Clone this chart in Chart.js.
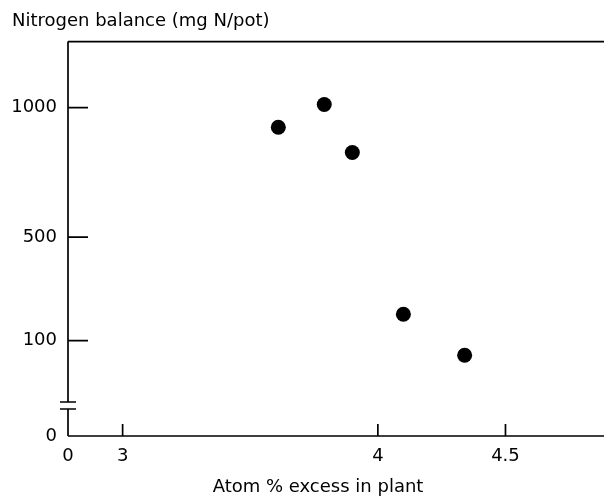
<!DOCTYPE html>
<html>
<head>
<meta charset="utf-8">
<script src="https://cdn.jsdelivr.net/npm/chart.js"></script>
<style>
  html, body { margin: 0; padding: 0; background: #fff; }
  #box { width: 604px; height: 500px; }
</style>
</head>
<body>
<div id="box"><canvas id="nChart"></canvas></div>
<script>
// values
const atomExcess = [3.61, 3.79, 3.90, 4.10, 4.34];
const nBalance = [924, 1012, 827, 202, 44];
const xTicks = [3, 4, 4.5];
const yTicks = [100, 500, 1000];
const originLabel = '0';
const yTitle = 'Nitrogen balance (mg N/pot)';
const xTitle = 'Atom % excess in plant';

// both axes are broken, the origin "0" sits at the low end
const xMin = 2.786, xMax = 4.886;
const yMin = -268, yMax = 1255;

const crt = document.getElementById('nChart');
Chart.defaults.font.family = 'DejaVu Sans';
Chart.defaults.color = '#000';

// axes drawn by hand: inward ticks, y-axis break, top frame line
const handAxes = {
	id: 'handAxes',
	afterDraw(chart) {
		const ctx = chart.ctx;
		const a = chart.chartArea;
		const xs = chart.scales.x, ys = chart.scales.y;
		ctx.save();
		ctx.strokeStyle = '#000';
		ctx.lineWidth = 1.7;
		ctx.beginPath();
		// top line
		ctx.moveTo(a.left, a.top);
		ctx.lineTo(a.right, a.top);
		// y axis with a gap
		ctx.moveTo(a.left, a.top);
		ctx.lineTo(a.left, a.bottom - 34);
		ctx.moveTo(a.left, a.bottom - 27);
		ctx.lineTo(a.left, a.bottom);
		// break marks
		ctx.moveTo(a.left - 8, a.bottom - 34);
		ctx.lineTo(a.left + 8, a.bottom - 34);
		ctx.moveTo(a.left - 8, a.bottom - 27);
		ctx.lineTo(a.left + 8, a.bottom - 27);
		// x axis
		ctx.moveTo(a.left, a.bottom);
		ctx.lineTo(a.right, a.bottom);
		yTicks.forEach(v => {
			const py = ys.getPixelForValue(v);
			ctx.moveTo(a.left, py);
			ctx.lineTo(a.left + 20, py);
		});
		xTicks.forEach(v => {
			const px = xs.getPixelForValue(v);
			ctx.moveTo(px, a.bottom);
			ctx.lineTo(px, a.bottom - 12);
		});
		ctx.stroke();
		ctx.fillStyle = '#000';
		ctx.font = '18px "DejaVu Sans"';
		ctx.textAlign = 'center';
		ctx.textBaseline = 'middle';
		ctx.fillText(xTitle, (a.left + a.right) / 2 - 18, 487);
		ctx.restore();
	}
};

new Chart(crt, {
	type: 'scatter',
	data: {
		datasets: [{
			data: atomExcess.map((x, i) => ({ x: x, y: nBalance[i] })),
			backgroundColor: '#000',
			borderWidth: 0,
			pointRadius: 7.5,
			pointHoverRadius: 7.5
		}]
	},
	options: {
		responsive: true,
		maintainAspectRatio: false,
		animation: false,
		layout: { autoPadding: false, padding: { left: 12, right: 0, top: 0, bottom: 0 } },
		plugins: {
			legend: { display: false },
			tooltip: { enabled: false },
			title: {
				display: true,
				text: yTitle,
				align: 'start',
				font: { size: 18, weight: 'normal' },
				padding: { top: 11, bottom: 9 }
			}
		},
		scales: {
			x: {
				type: 'linear',
				min: xMin,
				max: xMax,
				grid: { display: false, drawTicks: false },
				border: { display: false },
				afterBuildTicks: s => { s.ticks = [xMin].concat(xTicks).map(v => ({ value: v })); },
				afterFit: s => { s.height = 64; },
				ticks: {
					font: { size: 18 },
					padding: 10,
					autoSkip: false,
					maxRotation: 0,
					callback: v => v === xMin ? originLabel : v
				}
			},
			y: {
				type: 'linear',
				min: yMin,
				max: yMax,
				grid: { display: false, drawTicks: false },
				border: { display: false },
				afterBuildTicks: s => { s.ticks = [yMin].concat(yTicks).map(v => ({ value: v })); },
				afterFit: s => { s.width = 56; },
				ticks: {
					font: { size: 18 },
					padding: 11,
					callback: v => v === yMin ? originLabel : v
				}
			}
		}
	},
	plugins: [handAxes]
});
</script>
</body>
</html>
